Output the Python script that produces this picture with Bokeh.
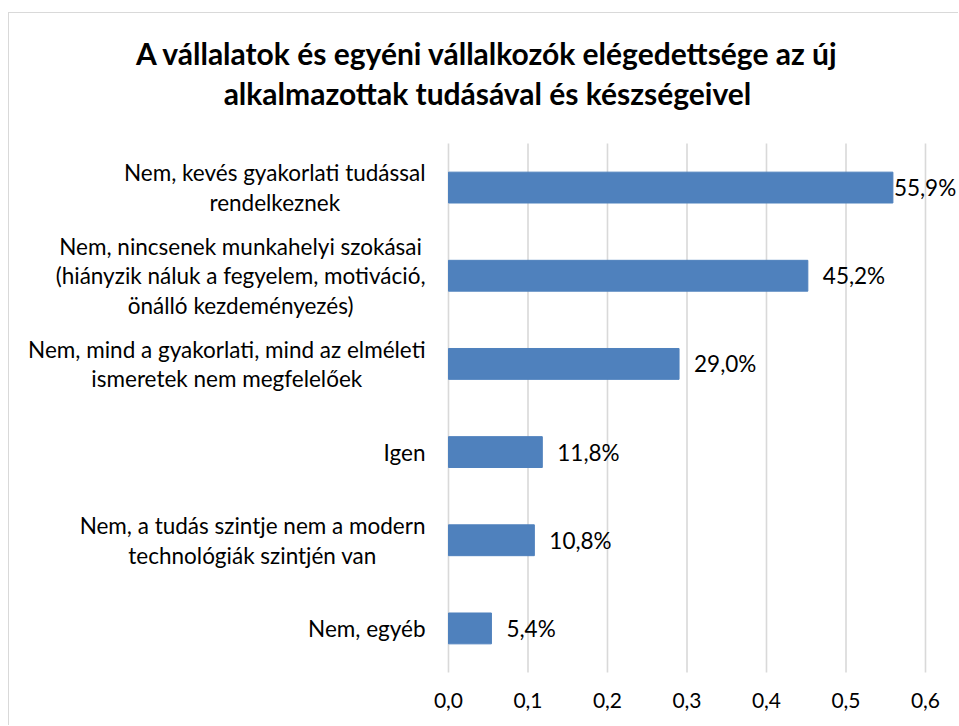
from bokeh.plotting import figure
from bokeh.models import ColumnDataSource, Range1d, Label, LabelSet
from bokeh.core.properties import value
from bokeh.embed import file_html
from bokeh.resources import INLINE

# ---- data ----
title_lines = ["A vállalatok és egyéni vállalkozók elégedettsége az új",
               "alkalmazottak tudásával és készségeivel"]
categories = [
    "Nem, kevés gyakorlati tudással\nrendelkeznek",
    "Nem, nincsenek munkahelyi szokásai\n(hiányzik náluk a fegyelem, motiváció,\nönálló kezdeményezés)",
    "Nem, mind a gyakorlati, mind az elméleti\nismeretek nem megfelelőek",
    "Igen",
    "Nem, a tudás szintje nem a modern\ntechnológiák szintjén van",
    "Nem, egyéb",
]
values = [0.559, 0.452, 0.290, 0.118, 0.108, 0.054]
value_labels = ["55,9%", "45,2%", "29,0%", "11,8%", "10,8%", "5,4%"]
tick_values = [0.0, 0.1, 0.2, 0.3, 0.4, 0.5, 0.6]
tick_labels = ["0,0", "0,1", "0,2", "0,3", "0,4", "0,5", "0,6"]

# ---- styles ----
label_offsets = [1, 15, 15, 15, 15, 15]   # px gap between bar end and its label
FONT = "Lato"
BAR = "#4F81BD"
GRID = "#D9D9D9"

n = len(categories)
ypos = [n - 1 - i + 0.5 for i in range(n)]   # category slots, top to bottom

# The frame spans the whole canvas so that texts outside the bar area are not clipped.
p = figure(width=950, height=713,
           x_range=Range1d(-0.5522, 0.64277), y_range=Range1d(-0.61248, 7.47448),
           output_backend="svg", toolbar_location=None,
           x_axis_location=None, y_axis_location=None, min_border=0)
p.margin = (12, 0, 0, 8)
p.styles = {"border-top": "1px solid #D9D9D9", "border-left": "1px solid #D9D9D9"}
p.outline_line_color = None
p.grid.visible = False
p.background_fill_color = "white"
p.border_fill_color = "white"

# vertical gridlines over the category area
p.segment(x0=tick_values, x1=tick_values, y0=[0] * len(tick_values),
          y1=[n] * len(tick_values), line_color=GRID, line_width=1.6)

src = ColumnDataSource(dict(y=ypos, val=values, lab=value_labels, off=label_offsets))
p.hbar(y="y", right="val", left=0, height=0.35, source=src,
       fill_color=BAR, line_color=BAR)

# data labels
p.add_layout(LabelSet(x="val", y="y", text="lab", source=src, x_offset="off",
                      text_baseline="middle", text_align="left",
                      text_font=value(FONT), text_font_size="22.5px",
                      text_color="black"))

# x tick labels
tsrc = ColumnDataSource(dict(x=tick_values, y=[-0.318] * len(tick_values), t=tick_labels))
p.add_layout(LabelSet(x="x", y="y", text="t", source=tsrc,
                      text_baseline="middle", text_align="center",
                      text_font=value(FONT), text_font_size="21px",
                      text_color="black"))

# category labels (multi-line, centred lines, right edge near axis)
for c, yy in zip(categories, ypos):
    p.add_layout(Label(x=0, y=yy, x_offset=-23, text=c, anchor="center_right",
                       text_align="center", text_font=FONT,
                       text_font_size="22.5px", text_color="black",
                       text_line_height=1.1))

# title
for line, yy in zip(title_lines, [7.021, 6.578]):
    p.add_layout(Label(x=0.049, y=yy, text=line, anchor="center",
                       text_align="center", text_font=FONT,
                       text_font_style="bold", text_font_size="30px",
                       text_color="black"))

open("out.html", "w").write(file_html(p, INLINE))
